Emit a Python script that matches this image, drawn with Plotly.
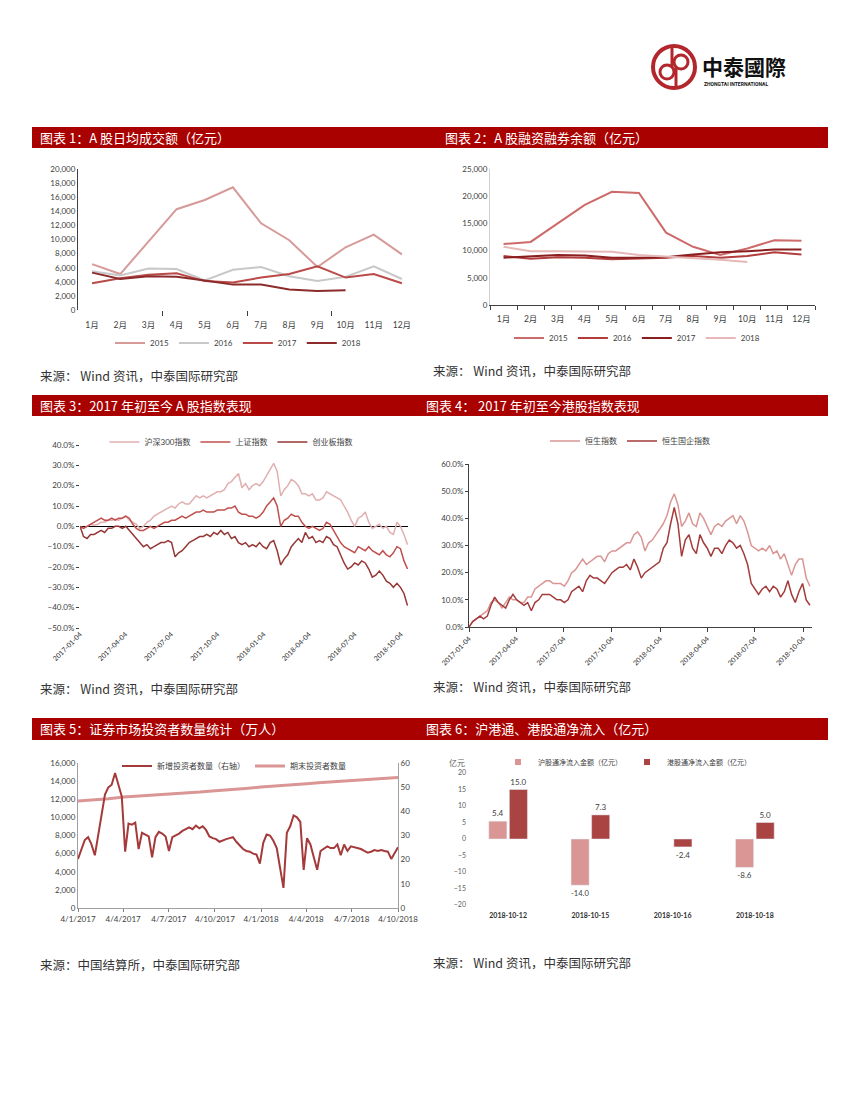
import plotly.graph_objects as go
import pandas as pd

W, H = 850, 1100
OFF = 8  # page body margin compensation
def px(x): return (x - OFF) / W
def py(y): return 1 - (y - OFF) / H

FONT = "Lato, 'Noto Sans CJK SC', sans-serif"
CJK = "'Noto Sans CJK SC', sans-serif"
TXT = '#404040'

# ---------------- Chart 1: A股日均成交额 ----------------
months = ['1月', '2月', '3月', '4月', '5月', '6月', '7月', '8月', '9月', '10月', '11月', '12月']
c1_2015 = [6500, 5100, 9700, 14300, 15600, 17400, 12300, 9900, 6100, 8900, 10700, 7900]
c1_2016 = [5500, 4900, 5900, 5800, 4200, 5700, 6100, 4800, 4100, 4700, 6200, 4400]
c1_2017 = [3800, 4500, 5000, 5200, 4100, 3900, 4600, 5100, 6200, 4600, 5100, 3800]
c1_2018 = [5300, 4400, 4800, 4700, 4200, 3600, 3600, 2900, 2700, 2800]

# ---------------- Chart 2: 融资融券余额 ----------------
c2_2015 = [11200, 11600, 15000, 18400, 20800, 20600, 13300, 10700, 9200, 10400, 11900, 11800]
c2_2016 = [9000, 8500, 8800, 8700, 8400, 8500, 8700, 9000, 8700, 9000, 9700, 9300]
c2_2017 = [8700, 8900, 9200, 9100, 8700, 8700, 8800, 9300, 9700, 9900, 10200, 10200]
c2_2018 = [10700, 9900, 9900, 9800, 9800, 9200, 8900, 8700, 8300, 7900]

# ---------------- Chart 3: A股指数表现 (weekly, %) ----------------
c3_start = '2017-01-04'
hs300 = [0, -1, 0, 1, 0.5, 1, 2, 2, 3, 3,
         3.5, 3, 4, 5, 3, 2, 1, -1, 0, 2,
         3, 5, 6, 7, 8, 9, 10, 9, 11, 12,
         11, 11, 13, 15, 14, 15, 14, 15, 16, 17,
         17, 18, 21, 22, 24, 26, 19, 21, 18, 20,
         21, 20, 22, 25, 28, 31, 27, 15, 18, 20,
         23, 22, 20, 16, 16, 15, 16, 13, 13, 14,
         17, 16, 15, 14, 13, 10, 7, 3, 0, 4,
         5, 7, 2, -1, 0, 1, -1, 0, -3, -4,
         2, 0, -4, -9]
shzs = [0, -1, 0, 1, 2, 3, 4, 3, 3, 4,
        3, 4, 4, 5, 4, 1, -1, -2, -2, -1,
        0, -1, 0, 1, 2, 2, 3, 3, 4, 5,
        4, 5, 6, 7, 7, 8, 7, 7, 7, 8,
        8, 8, 9, 9, 10, 7, 6, 6, 5, 5,
        4, 5, 7, 10, 12, 14, 10, 0, 3, 4,
        6, 5, 5, 2, 0, -1, 0, -1, -2, -1,
        2, 1, -2, -5, -8, -10, -11, -12, -13, -10,
        -11, -12, -10, -12, -13, -14, -12, -14, -15, -13,
        -10, -11, -17, -21]
cyb = [0, -5, -6, -4, -4, -3, -2, -3, -1, -1,
       0, 0, -1, 0, -2, -4, -6, -8, -10, -9,
       -11, -10, -9, -8, -8, -7, -8, -15, -13, -12,
       -10, -8, -7, -6, -5, -5, -4, -5, -3, -4,
       -2, -4, -3, -6, -5, -8, -9, -8, -10, -9,
       -10, -8, -10, -11, -8, -7, -12, -19, -16, -14,
       -10, -8, -6, -8, -3, -6, -5, -8, -7, -8,
       -5, -6, -9, -10, -14, -18, -21, -20, -18, -19,
       -17, -18, -21, -25, -24, -22, -24, -27, -28, -30,
       -28, -30, -33, -39]

# ---------------- Chart 4: 港股指数表现 (weekly, %) ----------------
hsi = [0, 2, 3, 4, 5, 6, 9, 10, 9, 7,
       9, 11, 10, 10, 9, 9, 11, 11, 14, 15,
       16, 17, 17, 16, 16, 16, 15, 17, 20, 21,
       23, 25, 23, 24, 25, 26, 26, 24, 27, 28,
       28, 29, 30, 31, 31, 34, 35, 33, 28, 31,
       32, 34, 36, 38, 41, 46, 49, 45, 37, 39,
       42, 38, 37, 42, 40, 37, 34, 37, 38, 37,
       39, 40, 41, 38, 41, 39, 35, 30, 29, 28,
       29, 28, 30, 27, 28, 25, 27, 23, 19, 23,
       25, 25, 18, 15]
hscei = [0, 2, 3, 4, 3, 4, 8, 11, 9, 8,
         7, 10, 12, 10, 9, 8, 9, 6, 9, 10,
         12, 12, 12, 11, 10, 10, 9, 10, 13, 14,
         15, 13, 17, 19, 18, 18, 17, 16, 18, 20,
         21, 22, 22, 23, 21, 25, 22, 18, 20, 21,
         22, 23, 24, 29, 31, 38, 44, 38, 26, 32,
         34, 29, 27, 34, 31, 29, 26, 29, 29, 27,
         30, 32, 31, 29, 30, 27, 23, 16, 14, 12,
         14, 15, 13, 15, 14, 11, 13, 17, 12, 9,
         13, 16, 10, 8]

quarter_ticks = ['2017-01-04', '2017-04-04', '2017-07-04', '2017-10-04',
                 '2018-01-04', '2018-04-04', '2018-07-04', '2018-10-04']

# ---------------- Chart 5: 投资者数量 ----------------
new_inv = [20.3, 24.4, 28.1, 29.3, 26.3, 21.8, 30.0, 37.5, 46.9, 49.9,
           51.0, 55.9, 50.6, 46.1, 23.3, 34.9, 34.5, 35.3, 24.4, 31.1,
           30.4, 29.6, 21.0, 29.3, 31.5, 30.8, 29.6, 23.6, 29.3, 30.0,
           30.8, 31.9, 32.6, 33.4, 32.6, 34.1, 33.0, 33.8, 32.3, 29.6,
           28.9, 28.5, 27.4, 28.1, 28.5, 28.9, 29.3, 27.4, 25.9, 24.4,
           23.6, 23.3, 22.5, 22.1, 18.4, 27.0, 30.4, 30.0, 27.8, 24.8,
           16.5, 8.3, 31.1, 33.8, 38.3, 37.5, 35.6, 15.8, 28.9, 26.3,
           21.0, 15.8, 23.6, 24.4, 25.5, 24.8, 24.8, 26.3, 21.8, 26.3,
           23.6, 25.5, 25.1, 24.8, 24.4, 23.6, 22.9, 23.3, 24.0, 23.6,
           24.0, 23.6, 23.3, 20.3, 22.5, 25.1]
end_inv = [11810, 11900, 12050, 12250, 12350, 12450, 12550, 12700, 12800, 12950, 13050,
           13200, 13350, 13450, 13550, 13700, 13850, 13950, 14050, 14150, 14300, 14400]

# ---------------- Chart 6: 沪港通/港股通净流入 ----------------
c6_dates = ['2018-10-12', '2018-10-15', '2018-10-16', '2018-10-18']
c6_hgt = [5.4, -14.0, None, -8.6]
c6_ggt = [15.0, 7.3, -2.4, 5.0]

# =========================================================
fig = go.Figure()

c1_cols = ['#d69a98', '#c8c8c8', '#b94a48', '#8c2b2b']
for name, vals, col in zip(['2015', '2016', '2017', '2018'],
                           [c1_2015, c1_2016, c1_2017, c1_2018], c1_cols):
    fig.add_trace(go.Scatter(x=list(range(len(vals))), y=vals, name=name, mode='lines',
                             line=dict(color=col, width=2), xaxis='x', yaxis='y', legend='legend'))

c2_cols = ['#cd6a6a', '#b33c3c', '#8b1f1f', '#e6b8b7']
for name, vals, col in zip(['2015', '2016', '2017', '2018'],
                           [c2_2015, c2_2016, c2_2017, c2_2018], c2_cols):
    fig.add_trace(go.Scatter(x=list(range(len(vals))), y=vals, name=name, mode='lines',
                             line=dict(color=col, width=2), xaxis='x2', yaxis='y2', legend='legend2'))

d3 = pd.date_range(c3_start, periods=len(hs300), freq='7D')
for name, vals, col in zip(['沪深300指数', '上证指数', '创业板指数'], [hs300, shzs, cyb],
                           ['#e0b0b0', '#c0504d', '#953735']):
    fig.add_trace(go.Scatter(x=d3, y=vals, name=name, mode='lines',
                             line=dict(color=col, width=1.5), xaxis='x3', yaxis='y3', legend='legend3'))

d4 = pd.date_range(c3_start, periods=len(hsi), freq='7D')
for name, vals, col in zip(['恒生指数', '恒生国企指数'], [hsi, hscei], ['#d99694', '#a33b3b']):
    fig.add_trace(go.Scatter(x=d4, y=vals, name=name, mode='lines',
                             line=dict(color=col, width=1.5), xaxis='x4', yaxis='y4', legend='legend4'))

d5a = pd.date_range('2017-01-04', '2018-10-04', periods=len(new_inv))
d5b = pd.date_range('2017-01-04', '2018-10-04', periods=len(end_inv))
fig.add_trace(go.Scatter(x=d5a, y=new_inv, name='新增投资者数量（右轴）', mode='lines',
                         line=dict(color='#a53a3a', width=2), xaxis='x5', yaxis='y6', legend='legend5'))
fig.add_trace(go.Scatter(x=d5b, y=end_inv, name='期末投资者数量', mode='lines',
                         line=dict(color='#d99694', width=3), xaxis='x5', yaxis='y5', legend='legend5'))

c6_names = ['沪股通净流入金额（亿元）', '港股通净流入金额（亿元）']
c6_cols = ['#d99694', '#a94442']
for name, vals, col in zip(c6_names, [c6_hgt, c6_ggt], c6_cols):
    fig.add_trace(go.Bar(x=c6_dates, y=vals, name=name, marker_color=col, showlegend=False,
                         texttemplate='%{y:.1f}', textposition='outside', cliponaxis=False,
                         textfont=dict(size=8, color=TXT), xaxis='x6', yaxis='y7'))
# legend-only entries (small square symbols like the original)
for name, col in zip(c6_names, c6_cols):
    fig.add_trace(go.Scatter(x=[None], y=[None], name=name, mode='markers',
                             marker=dict(symbol='square', size=6, color=col),
                             xaxis='x6', yaxis='y7', legend='legend6'))

tickfont = dict(size=8, color=TXT, family=FONT)
CLEAR = 'rgba(0,0,0,0)'

def legend_at(cx, cy, size=8):
    return dict(orientation='h', x=px(cx), y=py(cy), xanchor='center', yanchor='middle',
                font=dict(size=size, color=TXT, family=FONT), bgcolor=CLEAR,
                itemwidth=30, tracegroupgap=0)

NOAM = dict(automargin=False)
layout = dict(
    width=W, height=H, autosize=False, margin=dict(l=0, r=0, t=0, b=0, pad=0, autoexpand=False),
    paper_bgcolor='white', plot_bgcolor='white',
    font=dict(family=FONT, color=TXT),
    barmode='group', bargap=0.5, bargroupgap=0.12,
    # chart 1
    xaxis=dict(domain=[px(78), px(416)], anchor='y', range=[-0.5, 11.5],
               tickvals=list(range(12)), ticktext=months, ticks='outside', ticklen=7,
               tickcolor=CLEAR, showgrid=False,
               showline=False, zeroline=False, tickfont=dict(size=8.5, color=TXT),
               minor=dict(tickvals=[2.5, 5.5, 8.5], ticks='outside', ticklen=5,
                          tickcolor='#404040', showgrid=False), **NOAM),
    yaxis=dict(domain=[py(310), py(169)], anchor='x', range=[0, 20000], dtick=2000,
               tickformat=',d', showgrid=False, zeroline=False, showline=True,
               linecolor='#404040', linewidth=1, tickfont=tickfont, **NOAM),
    # chart 2
    xaxis2=dict(domain=[px(490), px(815)], anchor='y2', range=[-0.5, 11.5],
                tickvals=list(range(12)), ticktext=months, ticks='outside', ticklen=6,
                tickcolor=CLEAR, showgrid=False,
                showline=True, linecolor='#404040', zeroline=False,
                tickfont=dict(size=8.5, color=TXT),
                minor=dict(tickvals=[i - 0.5 for i in range(13)], ticks='outside', ticklen=4,
                           tickcolor='#404040', showgrid=False), **NOAM),
    yaxis2=dict(domain=[py(305), py(169)], anchor='x2', range=[0, 25000], dtick=5000,
                tickformat=',d', showgrid=False, zeroline=False, showline=True,
                linecolor='#d0d0d0', tickfont=tickfont, **NOAM),
    # chart 3
    xaxis3=dict(domain=[px(80), px(408)], anchor='y3', type='date',
                range=['2017-01-04', '2018-10-18'], tickvals=quarter_ticks,
                tickformat='%Y-%m-%d', tickangle=-45, ticks='', showgrid=False,
                showline=False, zeroline=False,
                tickfont=dict(size=7, color='#303030', family=FONT), **NOAM),
    xaxis7=dict(overlaying='x3', anchor='free', position=py(526), type='date',
                range=['2017-01-04', '2018-10-18'], tickvals=quarter_ticks,
                showticklabels=False, ticks='outside', ticklen=4, tickcolor='#000000',
                showgrid=False, showline=False, zeroline=False, **NOAM),
    yaxis3=dict(domain=[py(628), py(445)], anchor='x3', range=[-50, 40], dtick=10,
                tickformat='.1f', ticksuffix='%', showgrid=False, showline=False,
                zeroline=True, zerolinecolor='#000000', zerolinewidth=1,
                ticks='outside', ticklen=3, tickcolor='#404040', tickfont=tickfont, **NOAM),
    # chart 4
    xaxis4=dict(domain=[px(469), px(812)], anchor='y4', type='date',
                range=['2017-01-04', '2018-10-21'], tickvals=quarter_ticks,
                tickformat='%Y-%m-%d', tickangle=-45, ticks='outside', ticklen=4,
                tickcolor='#404040', showgrid=False, showline=True, linecolor='#404040',
                zeroline=False, tickfont=dict(size=7, color='#303030', family=FONT), **NOAM),
    yaxis4=dict(domain=[py(627), py(464)], anchor='x4', range=[0, 60], dtick=10,
                tickformat='.1f', ticksuffix='%', showgrid=False, showline=True,
                linecolor='#404040', zeroline=False, ticks='outside', ticklen=3,
                tickcolor='#404040', tickfont=tickfont, **NOAM),
    # chart 5
    xaxis5=dict(domain=[px(78), px(398)], anchor='y5', type='date',
                range=['2017-01-04', '2018-10-04'], tickvals=quarter_ticks,
                tickformat='%-d/%-m/%Y', ticks='outside', ticklen=3, tickcolor='#808080',
                showgrid=False, showline=True, linecolor='#a0a0a0', zeroline=False,
                tickfont=tickfont, **NOAM),
    yaxis5=dict(domain=[py(908), py(763)], anchor='x5', range=[0, 16000], dtick=2000,
                tickformat=',d', showgrid=False, showline=True, linecolor='#a0a0a0',
                zeroline=False, tickfont=tickfont, **NOAM),
    yaxis6=dict(overlaying='y5', anchor='x5', side='right', range=[0, 60], dtick=10,
                showgrid=False, showline=True, linecolor='#a0a0a0', zeroline=False,
                tickfont=tickfont, **NOAM),
    # chart 6
    xaxis6=dict(domain=[px(467), px(796)], anchor='y7', type='category',
                tickvals=c6_dates, ticktext=['<b>%s</b>' % d for d in c6_dates],
                ticks='outside', ticklen=4, tickcolor=CLEAR,
                showgrid=False, showline=False, zeroline=False,
                tickfont=dict(size=7, color='#303030', family=FONT), **NOAM),
    yaxis7=dict(domain=[py(905), py(773)], anchor='x6', range=[-20, 20], dtick=5,
                showgrid=False, showline=False, zeroline=False,
                tickfont=dict(size=7, color='#606060', family=FONT), **NOAM),
    legend=legend_at(238, 343),
    legend2=legend_at(637, 338),
    legend3=legend_at(231, 442),
    legend4=legend_at(630, 441),
    legend5=legend_at(234, 766),
    legend6=legend_at(627, 762, size=7),
)
fig.update_layout(**layout)

# ---- header bars ----
RED = '#a90000'
shapes = []
for y0, y1 in [(127, 148), (395, 416), (718, 740)]:
    shapes.append(dict(type='rect', xref='paper', yref='paper', x0=px(32), x1=px(828),
                       y0=py(y1), y1=py(y0), fillcolor=RED, line=dict(width=0), layer='above'))

# ---- logo ----
LRED = '#b3262b'
shapes.append(dict(type='circle', xref='paper', yref='paper', x0=px(653), x1=px(695),
                   y0=py(88), y1=py(46), line=dict(color=LRED, width=4)))
shapes.append(dict(type='circle', xref='paper', yref='paper', x0=px(660), x1=px(674),
                   y0=py(79), y1=py(65), line=dict(color=LRED, width=3)))
shapes.append(dict(type='circle', xref='paper', yref='paper', x0=px(674), x1=px(688),
                   y0=py(69), y1=py(55), line=dict(color=LRED, width=3)))
shapes.append(dict(type='line', xref='paper', yref='paper', x0=px(672), x1=px(672),
                   y0=py(47), y1=py(67), line=dict(color=LRED, width=3)))
shapes.append(dict(type='line', xref='paper', yref='paper', x0=px(676), x1=px(676),
                   y0=py(67), y1=py(87), line=dict(color=LRED, width=3)))
fig.update_layout(shapes=shapes)

ann = []
def text(x, y, s, size, color='#333333', xanchor='left', bold=False, family=CJK):
    ann.append(dict(xref='paper', yref='paper', x=px(x), y=py(y), text=('<b>%s</b>' % s) if bold else s,
                    showarrow=False, xanchor=xanchor, yanchor='middle',
                    font=dict(size=size, color=color, family=family)))

text(700, 66, '中泰國際', 21, color='#111111', bold=True)
text(702, 84, 'ZHONGTAI INTERNATIONAL', 5, color='#111111', bold=True, family='Roboto, sans-serif')

HS = 13
text(38, 137.5, '图表 1：A 股日均成交额（亿元）', HS, color='white')
text(443, 137.5, '图表 2：A 股融资融券余额（亿元）', HS, color='white')
text(38, 405.5, '图表 3：2017 年初至今 A 股指数表现', HS, color='white')
text(424, 405.5, '图表 4： 2017 年初至今港股指数表现', HS, color='white')
text(38, 729, '图表 5：证券市场投资者数量统计（万人）', HS, color='white')
text(424, 729, '图表 6：沪港通、港股通净流入（亿元）', HS, color='white')

SS = 12.5
src = '来源： Wind 资讯，中泰国际研究部'
text(38, 376, src, SS)
text(431, 370, src, SS)
text(38, 688, src, SS)
text(431, 686, src, SS)
text(38, 964, '来源：中国结算所，中泰国际研究部', SS)
text(431, 962, src, SS)
text(457, 762, '亿元', 8, color='#606060', xanchor='center')

fig.update_layout(annotations=ann)
fig.write_html('out.html')
